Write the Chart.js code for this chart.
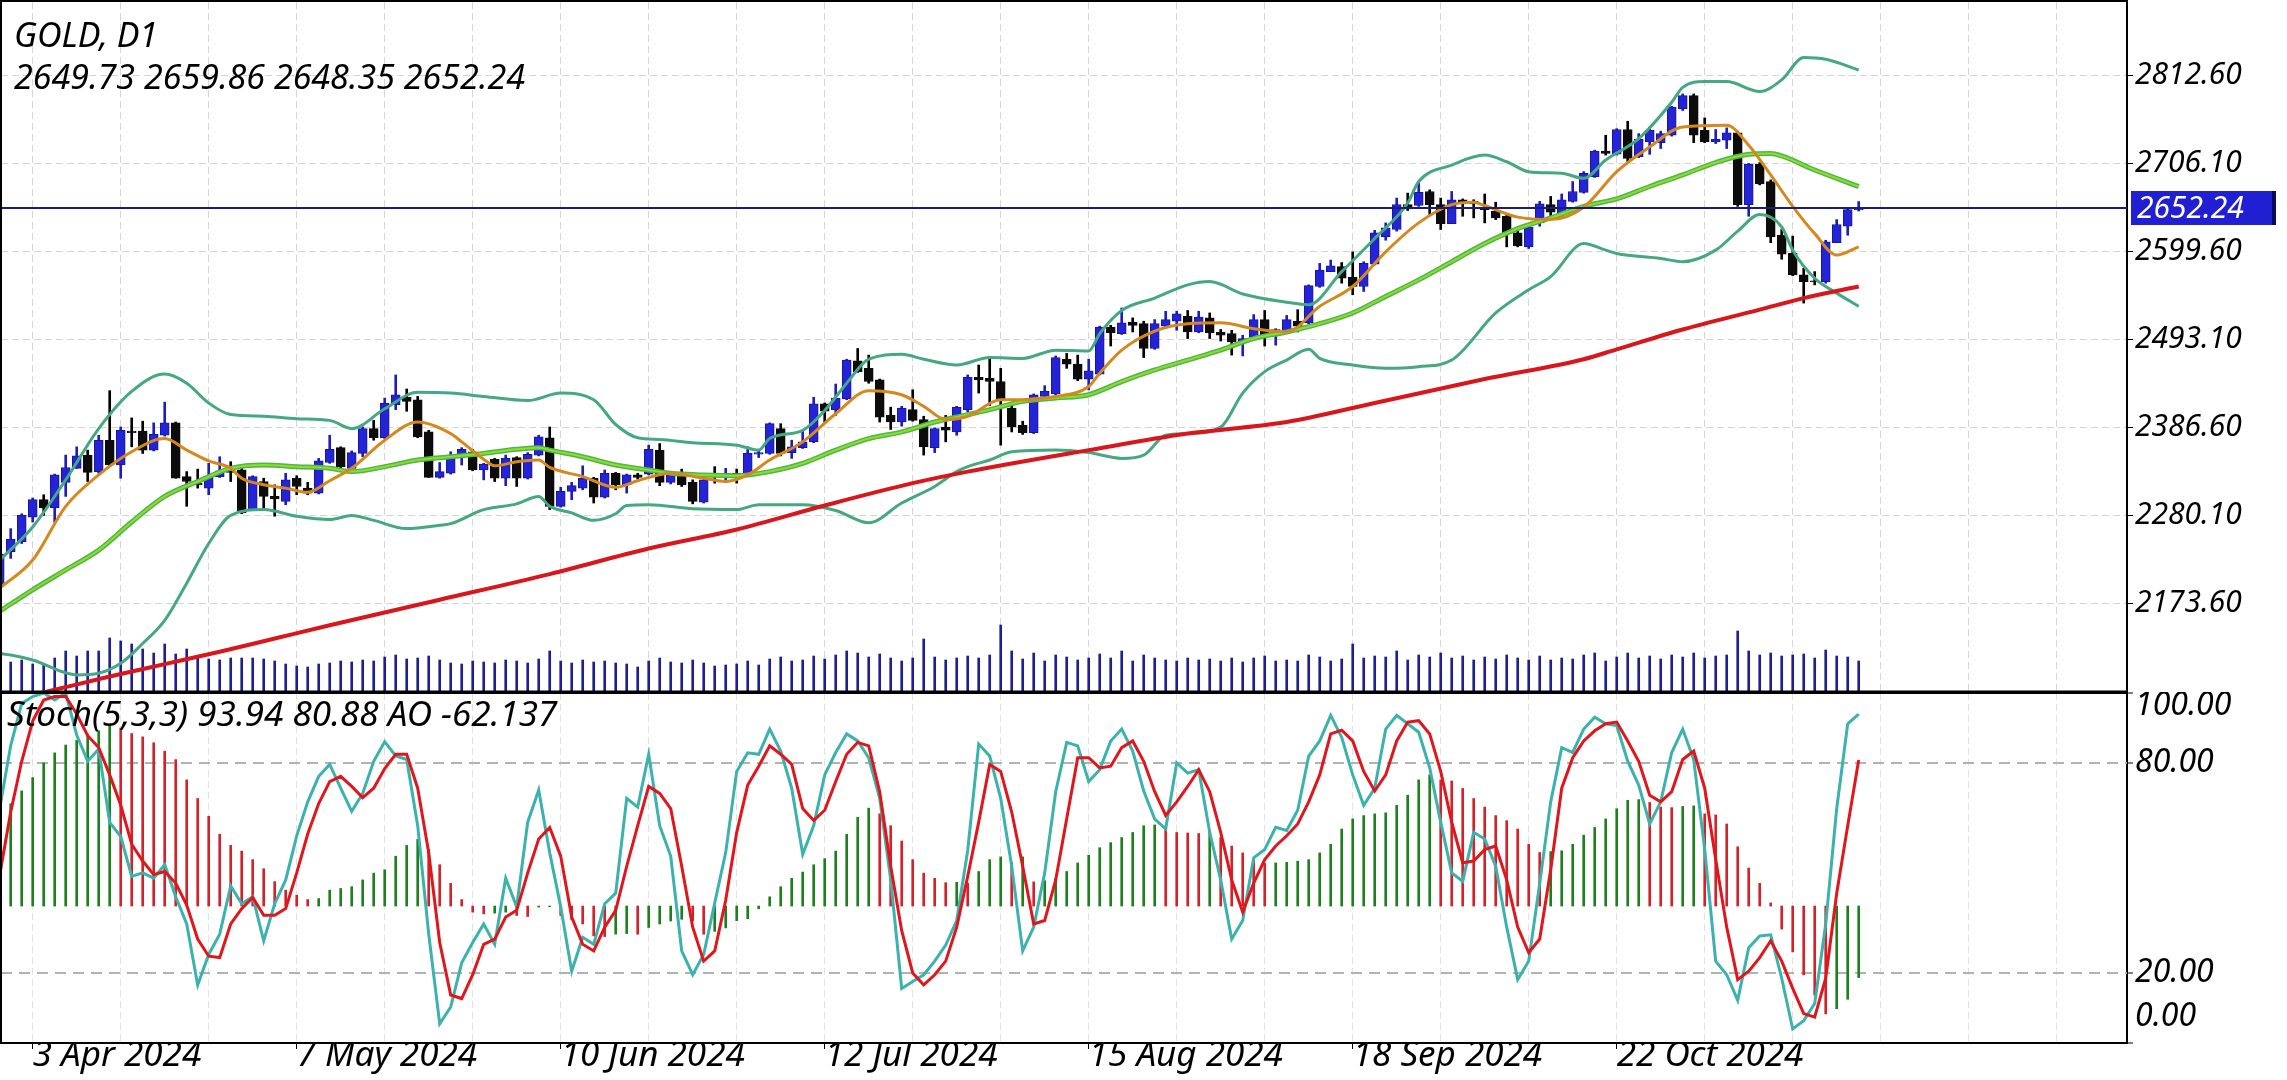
<!DOCTYPE html>
<html>
<head>
<meta charset="utf-8">
<title>GOLD, D1</title>
<script src="https://cdn.jsdelivr.net/npm/chart.js@4.4.1/dist/chart.umd.min.js"></script>
<style>
  html, body { margin: 0; padding: 0; background: #fff; }
  #wrap { position: relative; width: 2287px; height: 1080px; overflow: hidden; background: #fff; }
  #main { position: absolute; left: 0; top: 0; }
  #osc  { position: absolute; left: 0; top: 692px; }
</style>
</head>
<body>
<div id="wrap">
  <canvas id="main" width="2287" height="694"></canvas>
  <canvas id="osc" width="2287" height="388"></canvas>
</div>
<script>
// ---------- data ----------
const symbolTitle  = 'GOLD, D1';
const dateTickIdx  = [3, 27, 51, 75, 99, 123, 147];
const dateTickText = ['3 Apr 2024', '7 May 2024', '10 Jun 2024', '12 Jul 2024', '15 Aug 2024', '18 Sep 2024', '22 Oct 2024'];
const priceTicks   = [2173.60, 2280.10, 2386.60, 2493.10, 2599.60, 2706.10, 2812.60];
const stochLevels  = [100, 80, 20, 0];
const stochDashed  = [80, 20];

const opens = [
  2196,2236,2248,2278,2299,2289,2320,2337,2353,2333, 2371,2341,2382,2382,2359,2377,2392,2327,2319,2313,
  2327,2335,2335,2287,2321,2303,2297,2325,2313,2307, 2344,2362,2337,2355,2385,2374,2414,2423,2420,2381,
  2326,2331,2353,2357,2335,2348,2325,2350,2325,2353, 2374,2291,2309,2313,2325,2302,2331,2317,2329,2330,
  2359,2320,2329,2320,2296,2329,2329,2331,2329,2354, 2355,2385,2356,2362,2369,2415,2408,2421,2467,2458,
  2444,2401,2393,2408,2396,2362,2387,2381,2408,2447, 2446,2442,2410,2389,2380,2424,2427,2469,2463,2445,
  2451,2508,2500,2514,2512,2482,2509,2515,2521,2502, 2519,2502,2500,2490,2496,2517,2501,2504,2515,2513,
  2557,2575,2581,2568,2557,2584,2617,2626,2656,2655, 2672,2656,2633,2662,2660,2653,2648,2642,2622,2605,
  2634,2656,2645,2660,2671,2690,2721,2717,2747,2714, 2732,2731,2740,2772,2788,2746,2732,2734,2743,2656,
  2705,2684,2619,2597,2571,2564,2563,2610,2630,2649.73
];
const highs = [
  2238,2264,2282,2301,2305,2330,2353,2363,2359,2377, 2431,2387,2398,2394,2392,2417,2393,2333,2336,2343,
  2351,2345,2337,2328,2325,2317,2331,2328,2320,2349, 2377,2363,2358,2387,2395,2422,2450,2433,2424,2383,
  2344,2357,2362,2360,2343,2349,2353,2351,2356,2377, 2387,2314,2320,2340,2326,2335,2332,2330,2331,2365,
  2367,2330,2336,2323,2324,2339,2337,2336,2363,2359, 2392,2391,2371,2382,2423,2416,2439,2469,2482,2474,
  2445,2411,2412,2432,2400,2386,2401,2412,2450,2462, 2472,2458,2414,2394,2427,2437,2473,2476,2474,2469,
  2509,2510,2531,2519,2515,2517,2527,2527,2528,2527, 2525,2505,2504,2498,2523,2528,2506,2522,2529,2559,
  2585,2589,2586,2599,2587,2625,2634,2664,2670,2684, 2674,2664,2672,2663,2662,2669,2659,2643,2624,2630,
  2660,2666,2669,2684,2696,2722,2740,2748,2757,2742, 2750,2745,2775,2790,2790,2761,2747,2749,2745,2706,
  2707,2686,2626,2618,2579,2575,2613,2638,2652,2659.86
];
const lows = [
  2190,2228,2246,2272,2280,2272,2303,2337,2321,2331, 2339,2325,2363,2355,2358,2376,2325,2291,2313,2305,
  2326,2321,2282,2286,2289,2279,2293,2305,2305,2306, 2343,2337,2335,2351,2371,2373,2408,2406,2374,2326,
  2325,2330,2341,2334,2323,2321,2316,2315,2324,2352, 2287,2290,2299,2311,2295,2301,2311,2307,2324,2329,
  2316,2318,2315,2294,2295,2319,2320,2319,2328,2350, 2354,2352,2349,2361,2368,2391,2401,2420,2453,2440,
  2393,2384,2388,2394,2353,2356,2369,2377,2405,2428, 2413,2365,2381,2378,2379,2421,2425,2458,2443,2432,
  2450,2485,2499,2502,2471,2481,2508,2504,2494,2501, 2494,2491,2474,2473,2494,2485,2486,2502,2502,2512,
  2556,2575,2561,2547,2551,2583,2613,2624,2649,2654, 2644,2626,2633,2642,2640,2634,2638,2605,2605,2603,
  2630,2642,2642,2659,2670,2689,2716,2716,2708,2713, 2717,2724,2739,2770,2731,2731,2730,2724,2654,2642,
  2680,2610,2590,2570,2537,2559,2561,2610,2619,2648.35
];
const closes = [
  2233,2251,2280,2299,2289,2329,2338,2352,2332,2371, 2341,2383,2380,2359,2378,2392,2325,2321,2317,2327,
  2334,2332,2283,2327,2303,2300,2323,2315,2307,2346, 2360,2339,2356,2385,2374,2416,2426,2418,2375,2326,
  2333,2353,2360,2335,2342,2325,2349,2325,2354,2375, 2291,2309,2316,2325,2302,2331,2317,2329,2326,2360,
  2320,2329,2317,2297,2323,2327,2331,2327,2355,2356, 2391,2355,2363,2369,2415,2406,2422,2468,2454,2442,
  2399,2393,2410,2395,2363,2385,2383,2411,2447,2444, 2442,2420,2387,2380,2426,2430,2471,2463,2445,2455,
  2508,2501,2513,2510,2482,2512,2517,2524,2502,2520, 2501,2498,2490,2494,2517,2498,2505,2517,2509,2558,
  2577,2582,2567,2557,2585,2622,2628,2656,2651,2671, 2656,2633,2662,2658,2657,2650,2640,2622,2606,2629,
  2657,2647,2662,2672,2694,2721,2718,2747,2712,2735, 2746,2742,2774,2788,2740,2732,2735,2743,2656,2705,
  2681,2617,2596,2571,2563,2562.5,2611,2632,2650,2652.24
];
// tick volume, in pixels of bar height on the price panel
const tickVolume = [
  28,29,31,27,26,33,40,35,40,40, 53,50,47,42,38,47,37,42,33,32, 31,33,33,33,32,30,27,25,24,27,
  28,30,29,31,30,34,36,32,33,35, 31,28,27,30,29,28,31,30,28,32, 40,30,28,31,29,30,28,27,24,30,
  33,29,28,31,28,25,26,27,30,26, 32,34,30,31,35,32,36,40,38,34, 37,33,30,33,52,34,31,33,35,33,
  36,66,40,32,38,30,36,34,31,33, 37,33,40,30,36,33,31,30,33,31, 32,30,33,29,33,35,30,31,30,36,
  34,30,32,47,33,35,34,40,31,36, 34,38,33,35,31,34,32,36,33,31, 35,31,33,32,36,38,30,34,38,33,
  35,32,36,34,38,33,35,36,60,40, 36,38,35,36,37,33,41,35,34,30
];

// overlay lines, read at selected bars: [bar, price]
const maFast = [[0,2192],[3,2226],[6,2291],[9,2329],[12,2357],[15,2373],[17,2359],[19,2346],[21,2337],[22,2325],
  [24,2317],[26,2313],[28,2308],[30,2322],[32,2337],[35,2371],[38,2393],[41,2379],[42,2369],[44,2348],[45,2340],
  [47,2345],[49,2347],[50,2338],[53,2327],[56,2314],[58,2322],[61,2331],[64,2325],[66,2321],[68,2329],[70,2347],
  [73,2369],[76,2403],[79,2431],[82,2426],[84,2412],[86,2396],[88,2400],[91,2420],[93,2420],[96,2424],[99,2436],
  [100,2452],[102,2480],[105,2503],[108,2512],[111,2513],[114,2506],[117,2502],[120,2533],[123,2557],[126,2599],
  [129,2634],[132,2656],[134,2659],[135,2655],[138,2641],[141,2638],[144,2653],[147,2696],[150,2726],[153,2750],
  [157,2752],[159,2728],[161,2692],[163,2654],[165,2621],[167,2595],[169,2605]];
const maMid = [[0,2164],[3,2190],[6,2214],[9,2238],[12,2272],[15,2303],[18,2321],[21,2337],[24,2341],[27,2339],
  [30,2337],[32,2333],[35,2339],[38,2347],[41,2351],[44,2355],[47,2360],[49,2362],[50,2359],[53,2351],[56,2341],
  [59,2335],[61,2331],[64,2329],[67,2328],[70,2333],[73,2343],[76,2359],[79,2373],[82,2381],[85,2393],[88,2402],
  [90,2408],[93,2418],[96,2422],[99,2426],[102,2442],[105,2456],[108,2468],[111,2480],[114,2494],[117,2502],
  [120,2512],[123,2525],[126,2545],[129,2565],[132,2587],[135,2609],[138,2627],[141,2640],[144,2654],[147,2663],
  [150,2678],[153,2692],[156,2707],[159,2717],[161,2718],[162,2715],[165,2698],[169,2678]];
const bbUpper = [[0,2226],[3,2266],[6,2323],[9,2385],[12,2430],[15,2451],[17,2440],[19,2416],[21,2402],[24,2400],
  [27,2397],[30,2395],[32,2385],[35,2409],[38,2429],[41,2428],[44,2424],[48,2419],[51,2428],[54,2420],[56,2390],
  [58,2374],[60,2372],[63,2368],[67,2365],[69,2359],[70,2373],[73,2383],[75,2407],[77,2440],[79,2469],[82,2475],
  [84,2469],[87,2462],[90,2471],[93,2470],[96,2480],[99,2479],[100,2500],[102,2528],[105,2543],[108,2559],
  [110,2563],[113,2548],[117,2538],[119,2535],[122,2575],[125,2615],[128,2658],[129,2684],[132,2704],[135,2716],
  [137,2708],[139,2696],[142,2694],[144,2688],[146,2710],[149,2736],[152,2780],[153,2798],[155,2805],[157,2805],
  [160,2793],[162,2807],[164,2834],[166,2832],[169,2819]];
const bbLower = [[0,2113],[1,2111],[3,2105],[7,2087],[9,2089],[11,2101],[13,2125],[15,2153],[17,2198],[19,2246],
  [21,2280],[24,2287],[27,2279],[30,2275],[32,2280],[34,2274],[37,2264],[40,2268],[41,2270],[44,2287],[47,2294],
  [49,2303],[50,2291],[52,2283],[54,2274],[56,2282],[57,2292],[59,2293],[63,2288],[67,2287],[69,2293],[73,2293],
  [76,2286],[79,2271],[82,2295],[85,2315],[87,2333],[88,2339],[90,2347],[92,2357],[96,2359],[99,2356],[102,2349],
  [104,2353],[106,2377],[108,2379],[111,2387],[113,2428],[115,2454],[117,2468],[119,2481],[120,2470],[123,2462],
  [126,2458],[129,2460],[132,2468],[136,2525],[139,2553],[141,2569],[144,2609],[146,2601],[147,2597],[151,2591],
  [153,2587],[156,2601],[158,2624],[160,2644],[162,2629],[163,2601],[165,2567],[167,2549],[169,2533]];
const maSlow = [[0,2053],[5,2069],[10,2085],[15,2100],[20,2115],[25,2131],[30,2147],[40,2178],[50,2209],[59,2240],
  [67,2263],[75,2292],[83,2319],[88,2333],[99,2359],[108,2379],[117,2393],[125,2416],[135,2445],[144,2469],
  [147,2481],[153,2505],[160,2529],[164,2543],[169,2557]];

// Stochastic (5,3,3) and Awesome Oscillator, one value per bar
const stochK = [
  67,85,97,99,100,98,100,88,80.5,84, 63,59,47.6,48.6,47.1,51,41.8,34,16.6,25.3,
  31.1,44.9,39.8,41.8,29.2,39.8,46.6,59.2,68.9,76.2, 79.6,72.8,66.2,71.3,80.5,86.1,82,81,62.1,31.1,
  5.5,10.3,22.9,28.7,34,28.2,47.1,38.9,63.1,72.3, 54.4,38.9,20.5,30.2,28.2,39.8,42.8,69.9,67.4,82.5,
  62.1,53.4,26.3,19.5,25.3,40,54.4,77.6,82.9,82.5, 89.7,83.4,72.8,53.9,62.1,76.6,83,88.3,86.3,81.5,
  69.9,46.6,15.6,17.6,19.5,23.4,28,35,55,85.4, 82,69.9,50.5,26.3,33.1,48.6,71.8,85.9,84.9,74.7,
  78.1,86.3,89.7,83.4,72,64,61.2,80,77.1,78.1, 60.2,46.6,29.7,35,52.9,55.3,61.6,60.7,66.5,82,
  86.3,93.6,87.3,76.6,67.9,72.8,89.7,93.6,91.2,88.8, 78.6,63.1,48.6,46.2,60.2,58.3,50.5,33.1,18.1,23.4,
  45.6,68.9,84.4,83,89.7,93.1,91.2,90.7,80.5,73.7, 62.6,68.9,83,89.7,81,55.3,23.4,19.5,12.2,27.2,
  30.6,30.9,18.5,4,6.4,11.3,34,67,91.2,93.94
];
const stochD = [
  48,66,80.5,92,98,99,99,94,87.8,84.4, 76.6,68,56.8,52,48.1,49,45.7,39.4,29.7,24.8,
  24.4,34,38.4,41.6,36.5,36.5,38.4,48.6,59.7,68.4, 74.7,76.2,73.3,70.1,72.8,78.4,82.5,82.5,72.8,54.4,
  28.7,13.7,12.7,19.5,28.2,29.7,36,37.9,48.6,58.3, 61.6,53.4,36,28.2,26.3,33.1,37.9,50.5,62.1,73.3,
  71.3,67,50.5,33.1,23.4,26.3,40.8,60.2,73.7,79.1, 84.9,82.5,79.6,67,63.6,66.5,74.7,82.5,85.9,84.9,
  71.8,50.5,32.1,20,16.6,19.5,23.4,33.1,47.6,63.1, 79.6,77.6,66,50.5,34,35,46.6,64.1,81.5,81.5,
  78.6,79.1,84.4,86.3,80.5,71.8,65,68.9,73.3,78.1, 71.8,60.2,46.6,37.4,45.7,52.4,56.3,59.2,62.6,68.9,
  76.6,88.3,89.4,86.3,77.6,72,76.6,86.3,91.7,92.1, 88.3,77.6,63.1,51.5,52,55.3,56.3,46.6,33.1,25.8,
  29.7,49.5,72.8,81.5,86.3,89.2,91.2,91.7,86.3,80.5, 70.8,68.9,71.8,81,83.4,72.8,52.4,33.1,18.1,20.5,
  24.4,29.2,23.4,15.6,8.4,7.4,18.5,42.8,62.1,80.88
];
const aoValues = [
  null,88.9,100.1,111.6,124.3,133.1,139.9,144,149.3,152.3, 158.1,154.6,149.9,147,141.9,134.6,127.2,109.6,93.4,78,
  62.4,52.7,47.7,40.3,32.4,21.2,13.8,9.4,5.6,6.5, 13.8,15.3,16.8,22.7,28.6,31.5,43.3,52.7,58,49.2,
  35.9,19.7,5.6,-5.3,-6.8,-6.2,-5.3,-8.2,-9.1,-0.9, -0.5,-8.2,-12,-15.6,-25.9,-26.5,-24.4,-23.9,-24.5,-18.6,
  -15.6,-13,-11.5,-12.7,-24.5,-22,-19,-12.7,-11,-2.4, 8,16.8,24.1,29.5,35.9,41.2,47.7,62.4,77.2,85.1,
  80.1,69.8,56.5,40.3,28.6,24.1,20.3,20.6,19.7,30, 40.3,42.7,38,42.7,21,22,24,30,37.4,44.2,
  50.7,55.1,59.5,63.9,69.8,70.5,68.3,63.9,63.5,63, 65.4,59.5,52.1,46.2,40.3,37,37.5,38,39,40.3,
  46.2,53.6,66.9,75.7,78.6,80.1,81,87.5,96.3,109.6, 114,109.6,108.7,102.2,93.4,86,78.6,74.2,66.9,53.6,
  46.5,47.3,48,53.6,61.6,68.3,75.7,84.5,91.9,92.5, 90,86,85.5,86.5,87,80.1,79.2,71.3,51.5,33,
  19.7,2.7,-20,-39.8,-59.8,-77.5,-93.7,-89.2,-81,-62.137
];

// ---------- layout constants ----------
const FONT = "'Noto Sans', 'DejaVu Sans', sans-serif";
const X_MIN = 0.118, X_MAX = 193.39;      // bar 0 sits at the left edge, 11px per bar
const AXIS_W = 160;
const P_MIN = 2067.5, P_MAX = 2901.3;
const VOL_MAX = 689;
const AO_MIN = -119.0, AO_MAX = 185.1;
const lastBar = closes.length - 1;

const gridIdx = [];
for (let v = 3; v < X_MAX; v += 8) gridIdx.push(v);

const pts = arr => arr.map(([x, y]) => ({x, y}));
const isBull = i => closes[i] >= opens[i];
const lineDs = (data, color, width, order) => ({
  type: 'line', data: pts(data), borderColor: color, borderWidth: width,
  pointRadius: 0, cubicInterpolationMode: 'monotone', order
});
const fixWidth = s => { s.width = AXIS_W; s.paddingTop = 0; s.paddingBottom = 0; };

Chart.defaults.font.family = FONT;

// ---------- price panel ----------
const mainDeco = {
  id: 'mainDeco',
  afterDatasetsDraw(chart) {
    const {ctx, chartArea: a, scales: {y}} = chart;
    const py = Math.round(y.getPixelForValue(closes[lastBar]));
    ctx.save();
    ctx.strokeStyle = '#1b1b7a';
    ctx.lineWidth = 2;
    ctx.beginPath(); ctx.moveTo(a.left, py); ctx.lineTo(a.right, py); ctx.stroke();
    ctx.restore();
  },
  afterDraw(chart) {
    const {ctx, chartArea: a, scales: {y}} = chart;
    ctx.save();
    // frame
    ctx.strokeStyle = '#000'; ctx.lineWidth = 2;
    ctx.beginPath(); ctx.moveTo(1, a.bottom + 1); ctx.lineTo(1, 1); ctx.lineTo(a.right, 1); ctx.stroke();
    ctx.beginPath(); ctx.moveTo(0, a.bottom + 0.5); ctx.lineTo(a.right, a.bottom + 0.5); ctx.stroke();
    ctx.beginPath(); ctx.moveTo(a.right, 0); ctx.lineTo(a.right, a.top); ctx.stroke();
    // header
    ctx.fillStyle = '#000';
    ctx.font = 'italic 34px ' + FONT;
    ctx.textBaseline = 'alphabetic';
    ctx.fillText(symbolTitle, 14, 47);
    ctx.fillText([opens[lastBar], highs[lastBar], lows[lastBar], closes[lastBar]].map(v => v.toFixed(2)).join(' '), 14, 89);
    // last price tag on the axis
    const py = Math.round(y.getPixelForValue(closes[lastBar]));
    ctx.fillStyle = '#2020d2';
    ctx.fillRect(a.right + 4, py - 17, 141, 34);
    ctx.fillStyle = '#0b0b5c';
    ctx.fillRect(a.right + 145, py - 17, 4, 34);
    ctx.fillStyle = '#fff';
    ctx.font = 'italic 30px ' + FONT;
    ctx.textBaseline = 'middle';
    ctx.fillText(closes[lastBar].toFixed(2), a.right + 10, py + 1);
    ctx.restore();
  }
};

new Chart(document.getElementById('main'), {
  type: 'bar',
  data: {
    datasets: [
      lineDs(maSlow, '#d8161b', 4, 1),
      lineDs(maFast, '#d5891d', 3, 1),
      lineDs(maMid, '#8fdc2a', 2, 1),
      lineDs(maMid, '#4fb64a', 5, 2),
      lineDs(bbUpper, '#45a883', 3, 2),
      lineDs(bbLower, '#45a883', 3, 2),
      {
        type: 'bar', order: 3, grouped: false, barThickness: 9,
        data: opens.map((o, i) => ({x: i, y: [o, closes[i]]})),
        backgroundColor: opens.map((o, i) => isBull(i) ? '#2424d6' : '#0c0c0c'),
        borderColor: opens.map((o, i) => isBull(i) ? '#16169a' : '#0c0c0c'),
        borderWidth: 1, borderSkipped: false
      },
      {
        type: 'bar', order: 4, grouped: false, barThickness: 2,
        data: lows.map((l, i) => ({x: i, y: [l, highs[i]]})),
        backgroundColor: opens.map((o, i) => isBull(i) ? '#1e1eb8' : '#000')
      },
      {
        type: 'bar', order: 5, grouped: false, barThickness: 2, yAxisID: 'yVol',
        data: tickVolume.map((v, i) => ({x: i, y: [0, v]})),
        backgroundColor: '#1f1f8f'
      }
    ]
  },
  options: {
    responsive: false, animation: false, devicePixelRatio: 1, events: [],
    layout: {padding: {left: 1, top: 2, right: 0, bottom: 3}},
    plugins: {legend: {display: false}, tooltip: {enabled: false}},
    scales: {
      x: {
        type: 'linear', min: X_MIN, max: X_MAX, offset: false,
        afterBuildTicks: s => { s.ticks = gridIdx.map(v => ({value: v})); },
        afterFit: s => { s.height = 0; s.paddingLeft = 0; s.paddingRight = 0; },
        ticks: {display: false},
        grid: {color: '#d6d6d6', drawTicks: false, offset: false},
        border: {display: false, dash: [7, 4]}
      },
      y: {
        position: 'right', min: P_MIN, max: P_MAX,
        afterBuildTicks: s => { s.ticks = priceTicks.map(v => ({value: v})); },
        afterFit: fixWidth,
        ticks: {color: '#000', padding: 2, font: {family: FONT, style: 'italic', size: 30}, callback: v => v.toFixed(2)},
        grid: {color: '#d6d6d6', drawTicks: true, tickLength: 6, tickColor: '#000', tickWidth: 1},
        border: {display: true, color: '#000', width: 2, dash: [7, 4]}
      },
      yVol: {display: false, min: 0, max: VOL_MAX}
    }
  },
  plugins: [mainDeco]
});

// ---------- oscillator panel ----------
const oscDeco = {
  id: 'oscDeco',
  beforeDatasetsDraw(chart) {
    const {ctx, chartArea: a, scales: {yS}} = chart;
    ctx.save();
    ctx.strokeStyle = '#b2b2b2'; ctx.lineWidth = 2; ctx.setLineDash([11, 7]);
    stochDashed.forEach(v => {
      const py = Math.round(yS.getPixelForValue(v));
      ctx.beginPath(); ctx.moveTo(a.left, py); ctx.lineTo(a.right, py); ctx.stroke();
    });
    ctx.restore();
  },
  afterDraw(chart) {
    const {ctx, chartArea: a, scales: {yS}} = chart;
    ctx.save();
    ctx.strokeStyle = '#000'; ctx.lineWidth = 2;
    ctx.beginPath(); ctx.moveTo(1, a.bottom); ctx.lineTo(1, a.top); ctx.lineTo(a.right, a.top); ctx.stroke();
    ctx.fillStyle = '#000';
    ctx.font = 'italic 35px ' + FONT;
    ctx.textBaseline = 'alphabetic';
    ctx.fillText('Stoch(5,3,3) ' + stochK[lastBar].toFixed(2) + ' ' + stochD[lastBar].toFixed(2) +
      ' AO ' + aoValues[lastBar].toFixed(3), 7, 34);
    // level labels on the right axis, kept inside the panel
    ctx.font = 'italic 32px ' + FONT;
    ctx.textBaseline = 'middle';
    ctx.lineWidth = 1;
    stochLevels.forEach(v => {
      const py = yS.getPixelForValue(v);
      const ty = Math.min(Math.max(py, a.top + 13), a.bottom - 26);
      ctx.beginPath(); ctx.moveTo(a.right, py); ctx.lineTo(a.right + 6, py); ctx.stroke();
      ctx.fillText(v.toFixed(2), a.right + 8, ty);
    });
    ctx.restore();
  }
};

new Chart(document.getElementById('osc'), {
  type: 'bar',
  data: {
    datasets: [
      {
        type: 'line', order: 1, data: stochD.map((v, i) => ({x: i, y: v})),
        borderColor: '#e1161c', borderWidth: 3, pointRadius: 0, tension: 0, yAxisID: 'yS'
      },
      {
        type: 'line', order: 2, data: stochK.map((v, i) => ({x: i, y: v})),
        borderColor: '#3cb2ad', borderWidth: 3, pointRadius: 0, tension: 0, yAxisID: 'yS'
      },
      {
        type: 'bar', order: 3, grouped: false, barThickness: 2, yAxisID: 'yAO',
        data: aoValues.map((v, i) => ({x: i, y: v === null ? null : [0, v]})),
        backgroundColor: aoValues.map((v, i) => (i === 0 || aoValues[i - 1] === null || v >= aoValues[i - 1]) ? '#1f7f1f' : '#d3232a')
      }
    ]
  },
  options: {
    responsive: false, animation: false, devicePixelRatio: 1, events: [],
    layout: {padding: {left: 1, top: 1, right: 0, bottom: 0}},
    plugins: {legend: {display: false}, tooltip: {enabled: false}},
    scales: {
      x: {
        type: 'linear', min: X_MIN, max: X_MAX, offset: false, position: 'bottom',
        afterBuildTicks: s => { s.ticks = gridIdx.map(v => ({value: v})); },
        afterFit: s => { s.height = 37; s.paddingLeft = 0; s.paddingRight = 0; },
        ticks: {
          autoSkip: false, maxRotation: 0, minRotation: 0, align: 'start', padding: 0, color: '#000',
          font: {family: FONT, style: 'italic', size: 35, lineHeight: 0.4},
          callback: v => { const k = dateTickIdx.indexOf(v); return k >= 0 ? dateTickText[k] : ''; }
        },
        grid: {
          color: '#e2e2e2', offset: false, drawTicks: true, tickLength: 6, tickWidth: 1,
          tickColor: c => (c.tick && dateTickIdx.includes(c.tick.value)) ? '#000' : 'rgba(0,0,0,0)'
        },
        border: {display: true, color: '#000', width: 2, dash: [7, 4]}
      },
      yS: {
        position: 'right', min: 0, max: 100,
        afterFit: fixWidth,
        ticks: {display: false},
        grid: {display: false},
        border: {display: true, color: '#000', width: 2}
      },
      yAO: {display: false, min: AO_MIN, max: AO_MAX}
    }
  },
  plugins: [oscDeco]
});
</script>
</body>
</html>
